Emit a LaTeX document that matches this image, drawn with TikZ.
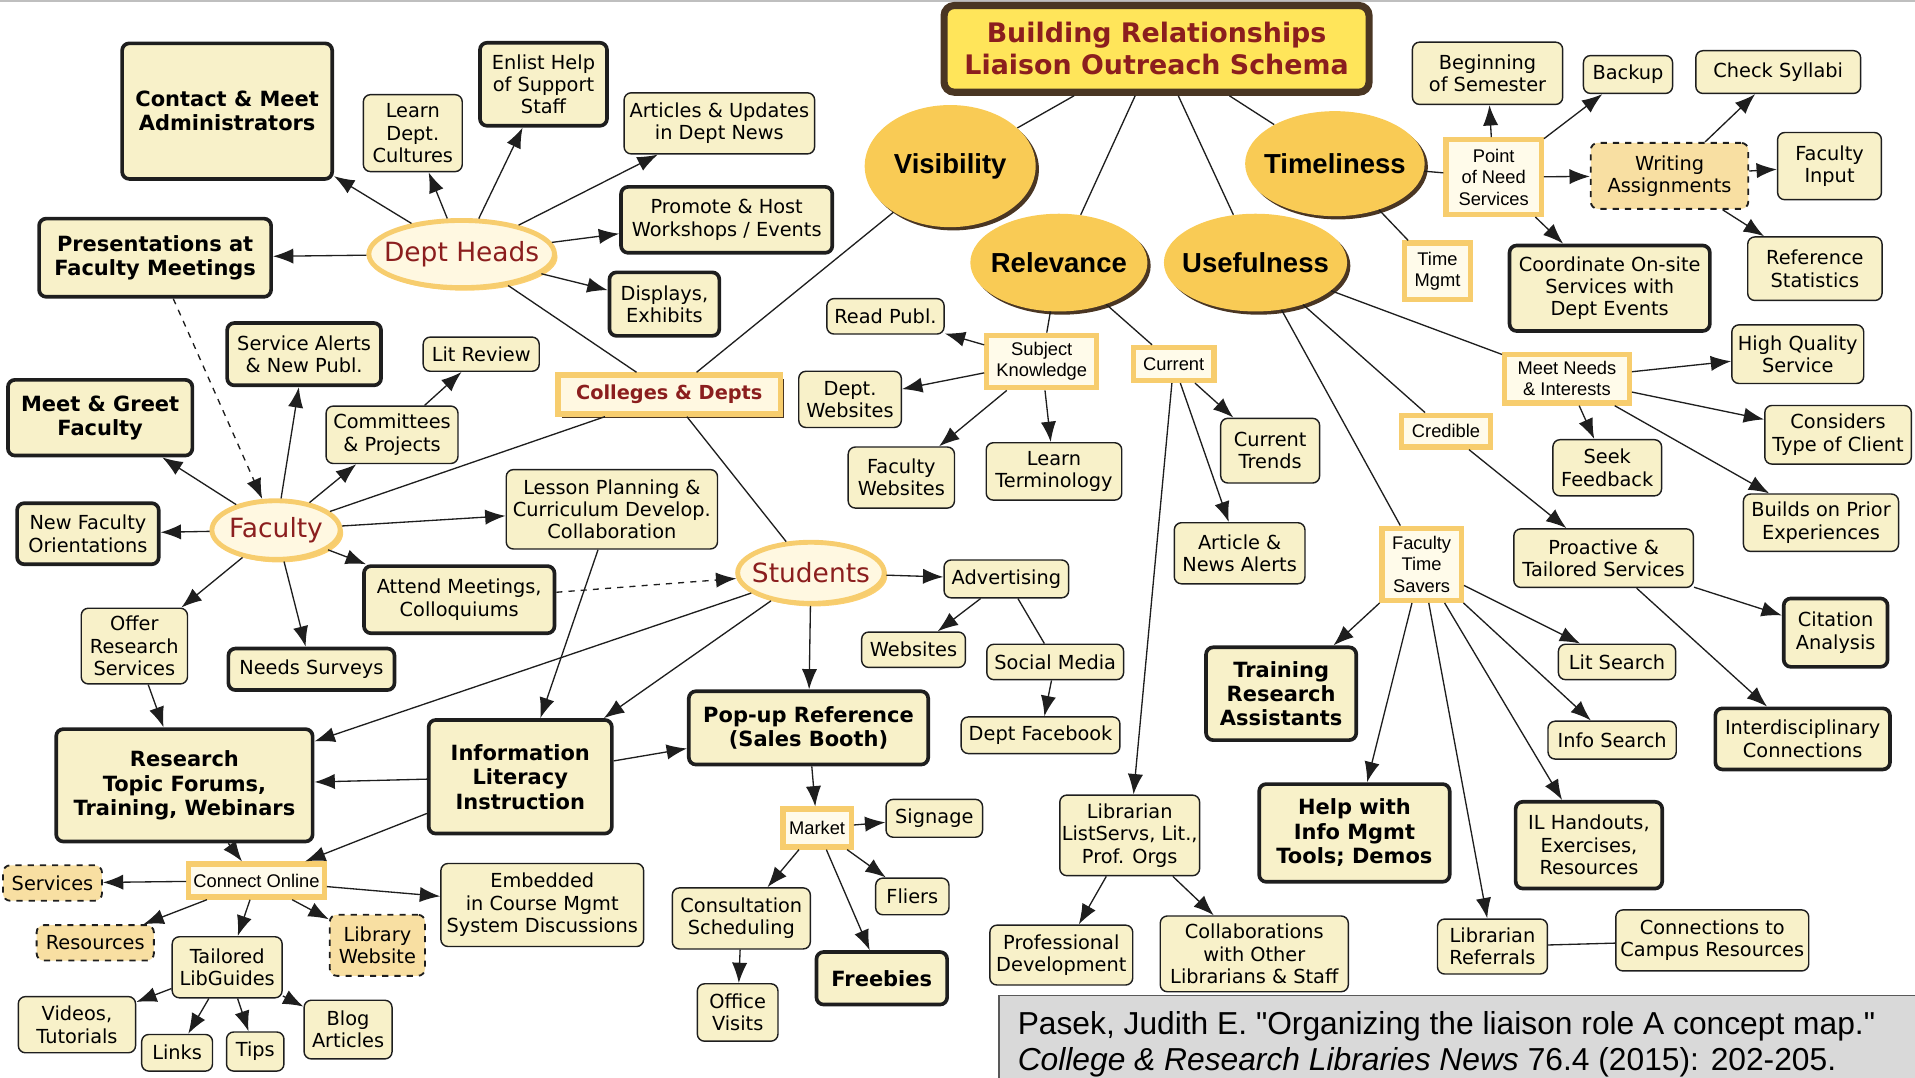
\documentclass[tikz,border=0pt]{standalone}
\usepackage{fontspec}
\setmainfont{DejaVu Sans}
\newfontfamily\arialfont{Liberation Sans}
\usetikzlibrary{arrows.meta,shapes.geometric,shadows}

\definecolor{cream}{HTML}{F8F1C9}
\definecolor{boxline}{HTML}{1E1E1E}
\definecolor{goldline}{HTML}{F7CD6E}
\definecolor{tagfill}{HTML}{FFFBEA}
\definecolor{gold}{HTML}{F9CB55}
\definecolor{peach}{HTML}{F8DFA2}
\definecolor{titlefill}{HTML}{FFE55A}
\definecolor{titlebrown}{HTML}{4A3623}
\definecolor{darkred}{HTML}{8B1E1E}
\definecolor{citegray}{HTML}{D9D9D9}
\definecolor{groupfill}{HTML}{FFF8E1}

\tikzset{
  wh/.style 2 args={minimum width=#1*0.6pt,minimum height=#2*0.6pt},
  box/.style={draw=boxline,fill=cream,rounded corners=3.5pt,line width=0.7pt,align=center,inner sep=1pt,font=\fontsize{9.5}{11}\selectfont},
  bbox/.style={box,line width=1.8pt},
  bigbox/.style={bbox,font=\fontsize{10.3}{12}\selectfont\bfseries},
  dbox/.style={box,fill=peach,dashed,line width=0.9pt},
  tag/.style={draw=goldline,fill=tagfill,line width=2.6pt,align=center,inner sep=1pt,font=\arialfont\fontsize{9}{10.5}\selectfont},
  hub/.style={tag,fill=groupfill,text=darkred,font=\bfseries\fontsize{9.5}{11}\selectfont,drop shadow={shadow xshift=2pt,shadow yshift=-2pt,fill=titlebrown,opacity=1}},
  topic/.style={ellipse,fill=gold,inner xsep=-20pt,inner ysep=0pt,font=\arialfont\bfseries\fontsize{13.5}{16}\selectfont,drop shadow={shadow xshift=1.6pt,shadow yshift=-1.6pt,fill=titlebrown,opacity=1}},
  group/.style={ellipse,draw=goldline,fill=groupfill,line width=2.4pt,inner xsep=-20pt,inner ysep=0pt,text=darkred,font=\fontsize{13}{15}\selectfont,drop shadow={shadow xshift=1.5pt,shadow yshift=-1.5pt,fill=gold!90!orange,opacity=0.8}},
  link/.style={draw=boxline,line width=0.65pt},
  arr/.style={link,->},
}

\begin{document}
\begin{tikzpicture}[x=0.6pt,y=-0.6pt,>={Latex[length=10pt,width=7.5pt]}]
\useasboundingbox (0,0) rectangle (1568,882);
\draw[gray!50,line width=0.8pt] (0,1) -- (1568,1);

% title and the four topics
\node[draw=titlebrown,fill=titlefill,line width=3.5pt,rounded corners=5pt,wh={348}{71},align=center,text=darkred,font=\bfseries\fontsize{13.2}{15.6}\selectfont] (title) at (947,40) {Building Relationships\\Liaison Outreach Schema};
\node[topic,wh={140}{100}] (visibility) at (778,136) {Visibility};
\node[topic,wh={147}{86}] (timeliness) at (1093,134) {Timeliness};
\node[topic,wh={145}{80}] (relevance) at (867,215) {Relevance};
\node[topic,wh={150}{80}] (usefulness) at (1028,215) {Usefulness};

% dept heads
\node[group,wh={152}{55}] (heads) at (378,208) {Dept Heads};
\node[bigbox,wh={172}{111}] (admin) at (186,91) {Contact \& Meet\\Administrators};
\node[box,wh={81}{63}] (cultures) at (338,109) {Learn\\Dept.\\Cultures};
\node[bbox,wh={104}{68}] (enlist) at (445,69) {Enlist Help\\of Support\\Staff};
\node[box,wh={156}{50}] (news) at (589,101) {Articles \& Updates\\in Dept News};
\node[bbox,wh={173}{54}] (workshops) at (595,180) {Promote \& Host\\Workshops / Events};
\node[bbox,wh={90}{52}] (displays) at (544,249) {Displays,\\Exhibits};
\node[bigbox,wh={190}{64}] (presentations) at (127,211) {Presentations at\\Faculty Meetings};
\node[hub,wh={182}{32}] (colleges) at (548,323) {Colleges \& Depts};

% faculty
\node[group,wh={105}{48}] (faculty) at (226,434) {Faculty};
\node[bbox,wh={126}{51}] (alerts) at (249,290) {Service Alerts\\\& New Publ.};
\node[box,wh={95}{28}] (litreview) at (394,290) {Lit Review};
\node[box,wh={108}{47}] (committees) at (321,356) {Committees\\\& Projects};
\node[bigbox,wh={151}{62}] (greet) at (82,342) {Meet \& Greet\\Faculty};
\node[bbox,wh={116}{50}] (orient) at (72,437) {New Faculty\\Orientations};
\node[box,wh={173}{65}] (lesson) at (501,417) {Lesson Planning \&\\Curriculum Develop.\\Collaboration};
\node[bbox,wh={156}{55}] (attend) at (376,491) {Attend Meetings,\\Colloquiums};
\node[box,wh={87}{62}] (offer) at (110,529) {Offer\\Research\\Services};
\node[bbox,wh={136}{34}] (surveys) at (255,548) {Needs Surveys};

% students
\node[group,wh={120}{50}] (students) at (664,469) {Students};
\node[bigbox,wh={210}{92}] (forums) at (151,643) {Research\\Topic Forums,\\Training, Webinars};
\node[bigbox,wh={150}{93}] (infolit) at (426,636) {Information\\Literacy\\Instruction};
\node[bigbox,wh={196}{60}] (popup) at (662,596) {Pop-up Reference\\(Sales Booth)};
\node[tag,wh={111}{27}] (online) at (210,721) {Connect Online};
\node[dbox,wh={81}{29}] (services) at (43,723) {Services};
\node[box,wh={166}{68}] (embedded) at (444,741) {Embedded\\in Course Mgmt\\System Discussions};
\node[dbox,wh={96}{29}] (resources) at (78,772) {Resources};
\node[dbox,wh={78}{50}] (libsite) at (309,774) {Library\\Website};
\node[box,wh={90}{50}] (libguides) at (186,792) {Tailored\\LibGuides};
\node[box,wh={96}{46}] (videos) at (63,839) {Videos,\\Tutorials};
\node[box,wh={58}{30}] (links) at (145,862) {Links};
\node[box,wh={47}{32}] (tips) at (209,861) {Tips};
\node[box,wh={72}{48}] (blog) at (285,843) {Blog\\Articles};
\node[box,wh={102}{31}] (advertising) at (824,474) {Advertising};
\node[box,wh={85}{29}] (websites) at (748,532) {Websites};
\node[box,wh={112}{29}] (social) at (864,542) {Social Media};
\node[box,wh={130}{30}] (facebook) at (852,602) {Dept Facebook};
\node[tag,wh={56}{31}] (market) at (669,678) {Market};
\node[box,wh={79}{31}] (signage) at (765,670) {Signage};
\node[box,wh={113}{50}] (consult) at (607,752) {Consultation\\Scheduling};
\node[box,wh={60}{30}] (fliers) at (747,734) {Fliers};
\node[box,wh={66}{47}] (office) at (604,829) {Office\\Visits};
\node[bigbox,wh={107}{43}] (freebies) at (722,801) {Freebies};

% relevance
\node[tag,wh={90}{43}] (subject) at (853,296) {Subject\\Knowledge};
\node[box,wh={96}{29}] (readpubl) at (725,259) {Read Publ.};
\node[box,wh={84}{46}] (deptweb) at (696,327) {Dept.\\Websites};
\node[box,wh={87}{50}] (facweb) at (738,391) {Faculty\\Websites};
\node[box,wh={111}{47}] (terms) at (863,386) {Learn\\Terminology};
\node[tag,wh={66}{27}] (current) at (961,298) {Current};
\node[box,wh={81}{53}] (trends) at (1040,369) {Current\\Trends};
\node[box,wh={107}{50}] (newsalerts) at (1015,453) {Article \&\\News Alerts};
\node[box,wh={104}{66}] (listservs) at (925,684) {Librarian\\ListServs, Lit.,\\Prof. Orgs};
\node[box,wh={117}{49}] (profdev) at (869,782) {Professional\\Development};
\node[box,wh={154}{62}] (collab) at (1027,781) {Collaborations\\with Other\\Librarians \& Staff};

% timeliness
\node[tag,wh={78}{61}] (pointneed) at (1223,145) {Point\\of Need\\Services};
\node[box,wh={123}{51}] (semester) at (1218,60) {Beginning\\of Semester};
\node[box,wh={73}{31}] (backup) at (1333,61) {Backup};
\node[box,wh={135}{35}] (syllabi) at (1456,59) {Check Syllabi};
\node[dbox,wh={129}{54}] (writing) at (1367,144) {Writing\\Assignments};
\node[box,wh={85}{55}] (facinput) at (1498,136) {Faculty\\Input};
\node[tag,wh={54}{46}] (timemgmt) at (1177,222) {Time\\Mgmt};
\node[bbox,wh={164}{70}] (coordinate) at (1318,236) {Coordinate On-site\\Services with\\Dept Events};
\node[box,wh={110}{52}] (refstats) at (1486,220) {Reference\\Statistics};

% usefulness
\node[tag,wh={102}{40}] (meetneeds) at (1283,310) {Meet Needs\\\& Interests};
\node[box,wh={108}{48}] (quality) at (1472,290) {High Quality\\Service};
\node[box,wh={120}{48}] (clienttype) at (1505,356) {Considers\\Type of Client};
\node[tag,wh={73}{26}] (credible) at (1184,353) {Credible};
\node[box,wh={89}{46}] (feedback) at (1316,383) {Seek\\Feedback};
\node[box,wh={127}{47}] (prior) at (1491,428) {Builds on Prior\\Experiences};
\node[tag,wh={65}{59}] (timesavers) at (1164,462) {Faculty\\Time\\Savers};
\node[box,wh={147}{48}] (proactive) at (1313,457) {Proactive \&\\Tailored Services};
\node[bbox,wh={85}{56}] (citation) at (1503,518) {Citation\\Analysis};
\node[bigbox,wh={123}{76}] (assistants) at (1049,568) {Training\\Research\\Assistants};
\node[box,wh={96}{29}] (litsearch) at (1324,542) {Lit Search};
\node[box,wh={105}{31}] (infosearch) at (1320,606) {Info Search};
\node[bbox,wh={143}{50}] (interdisc) at (1476,605) {Interdisciplinary\\Connections};
\node[bigbox,wh={156}{80}] (infomgmt) at (1109,682) {Help with\\Info Mgmt\\Tools; Demos};
\node[bbox,wh={120}{71}] (handouts) at (1301,692) {IL Handouts,\\Exercises,\\Resources};
\node[box,wh={90}{45}] (referrals) at (1222,775) {Librarian\\Referrals};
\node[box,wh={158}{50}] (campus) at (1402,770) {Connections to\\Campus Resources};

% plain links
\draw[link] (title) -- (visibility);
\draw[link] (title) -- (relevance);
\draw[link] (title) -- (usefulness);
\draw[link] (title) -- (timeliness);
\draw[link] (visibility) -- (colleges);
\draw[link] (heads) -- (colleges);
\draw[link] (colleges) -- (faculty);
\draw[link] (colleges) -- (students);
\draw[link] (relevance) -- (subject);
\draw[link] (relevance) -- (current);
\draw[link] (timeliness) -- (pointneed);
\draw[link] (timeliness) -- (timemgmt);
\draw[link] (usefulness) -- (meetneeds);
\draw[link] (usefulness) -- (credible);
\draw[link] (usefulness) -- (timesavers);
\draw[link] (advertising) -- (social);
\draw[link] (referrals) -- (campus);

% arrows
\foreach \b in {admin,cultures,enlist,news,workshops,displays,presentations}
  \draw[arr] (heads) -- (\b);
\foreach \b in {greet,alerts,committees,orient,lesson,attend,offer,surveys}
  \draw[arr] (faculty) -- (\b);
\draw[arr,dashed] (presentations) -- (faculty);
\draw[arr,dashed] (attend) -- (students);
\draw[arr] (committees) -- (litreview);
\draw[arr] (offer) -- (forums);
\draw[arr] (lesson) -- (infolit);
\foreach \b in {forums,infolit,popup,advertising}
  \draw[arr] (students) -- (\b);
\foreach \b in {forums,popup,online}
  \draw[arr] (infolit) -- (\b);
\draw[arr] (forums) -- (online);
\foreach \b in {services,resources,libguides,libsite,embedded}
  \draw[arr] (online) -- (\b);
\foreach \b in {videos,links,tips,blog}
  \draw[arr] (libguides) -- (\b);
\draw[arr] (advertising) -- (websites);
\draw[arr] (social) -- (facebook);
\draw[arr] (popup) -- (market);
\foreach \b in {signage,consult,fliers,freebies}
  \draw[arr] (market) -- (\b);
\draw[arr] (consult) -- (office);
\foreach \b in {readpubl,deptweb,facweb,terms}
  \draw[arr] (subject) -- (\b);
\foreach \b in {trends,newsalerts,listservs}
  \draw[arr] (current) -- (\b);
\draw[arr] (listservs) -- (profdev);
\draw[arr] (listservs) -- (collab);
\foreach \b in {semester,backup,writing,coordinate}
  \draw[arr] (pointneed) -- (\b);
\foreach \b in {syllabi,facinput,refstats}
  \draw[arr] (writing) -- (\b);
\foreach \b in {quality,clienttype,feedback,prior}
  \draw[arr] (meetneeds) -- (\b);
\draw[arr] (credible) -- (proactive);
\draw[arr] (proactive) -- (citation);
\draw[arr] (proactive) -- (interdisc);
\foreach \b in {assistants,infomgmt,referrals,handouts,infosearch,litsearch}
  \draw[arr] (timesavers) -- (\b);

% citation
\draw[fill=citegray,draw=gray!70!black,line width=0.6pt] (818,815) rectangle (1570,884);
\node[anchor=west,align=left,inner sep=0pt,font=\arialfont\fontsize{15.6}{17.4}\selectfont] (cite) at (833,855) {Pasek, Judith E. "Organizing the liaison role A concept map."\\\textit{College \& Research Libraries News} 76.4 (2015): 202-205.};
\end{tikzpicture}
\end{document}
